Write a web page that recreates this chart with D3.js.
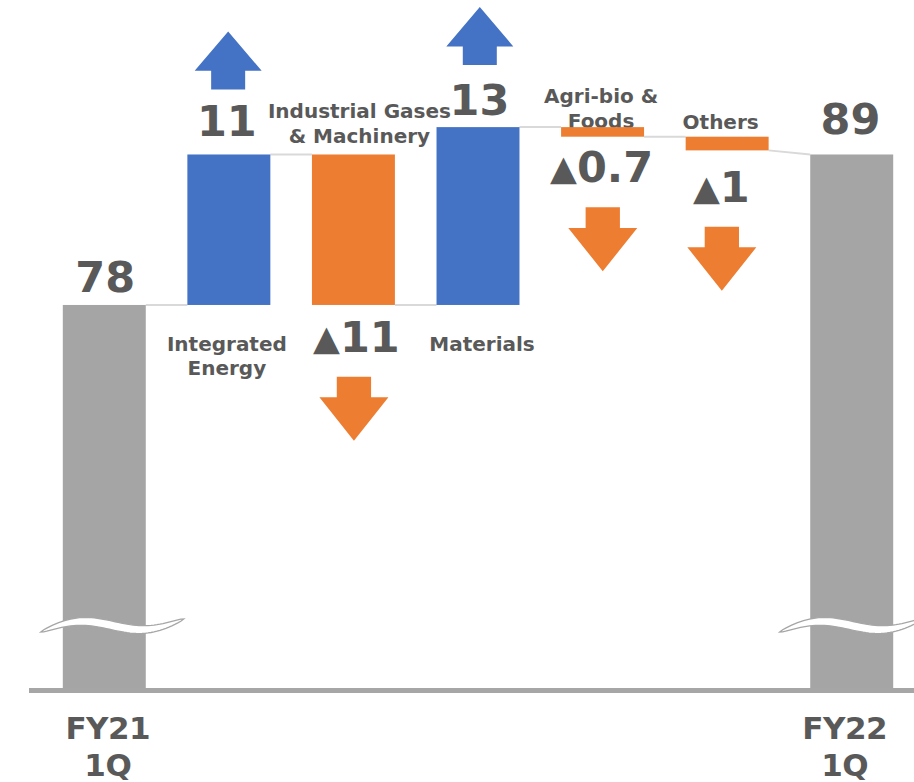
<!DOCTYPE html>
<html>
<head>
<meta charset="utf-8">
<script src="https://cdn.jsdelivr.net/npm/d3@7"></script>
<style>
  html, body { margin: 0; padding: 0; background: #ffffff; }
  svg { display: block; }
  text { font-family: "DejaVu Sans", "Verdana", sans-serif; font-weight: bold; fill: #595959; }
</style>
</head>
<body>
<svg id="chart" width="914" height="782"></svg>
<script>
// Operating income bridge, FY21 1Q -> FY22 1Q (billion yen)
const categories = ["FY21 1Q", "Integrated Energy", "Industrial Gases & Machinery", "Materials", "Agri-bio & Foods", "Others", "FY22 1Q"];
const categoryLines = [["FY21", "1Q"], ["Integrated", "Energy"], ["Industrial Gases", "& Machinery"], ["Materials"], ["Agri-bio &", "Foods"], ["Others"], ["FY22", "1Q"]];
const barKinds = ["total", "delta", "delta", "delta", "delta", "delta", "total"];
const barValues = [78, 11, -11, 13, -0.7, -1, 89];
const valueLabels = ["78", "11", "▲11", "13", "▲0.7", "▲1", "89"];
const axisFloor = 50;   // value axis is broken; totals rise from this floor
const axisCeil = 100;

const COLORS = { total: "#a5a5a5", up: "#4472c4", down: "#ed7d31", text: "#595959", connector: "#d9d9d9", axis: "#a6a6a6" };

const svg = d3.select("#chart");
const W = 914;

const x = d3.scaleBand()
  .domain(categories)
  .range([42, 914])
  .paddingInner(0.334)
  .paddingOuter(0.167);

const y = d3.scaleLinear()
  .domain([axisFloor, axisCeil])
  .range([688, 4]);

// Build waterfall segments
let running = 0;
const bars = categories.map((c, i) => {
  const v = barValues[i];
  let start, end;
  if (barKinds[i] === "total") {
    start = axisFloor; end = v; running = v;
  } else {
    start = running; end = running + v; running = end;
  }
  return { cat: c, i, kind: barKinds[i], value: v, start, end,
           lines: categoryLines[i], label: valueLabels[i] };
});

// Connectors between consecutive bars (end level of one -> start level of the next)
function levelOut(b) { return b.kind === "total" ? b.value : b.end; }
function levelIn(b) { return b.kind === "total" ? b.value : b.start; }
const gConn = svg.append("g");
for (let i = 0; i < bars.length - 1; i++) {
  const a = bars[i], b = bars[i + 1];
  gConn.append("line")
    .attr("x1", x(a.cat) + x.bandwidth()).attr("y1", y(levelOut(a)))
    .attr("x2", x(b.cat)).attr("y2", y(levelIn(b)))
    .attr("stroke", COLORS.connector).attr("stroke-width", 2);
}

// Category labels (drawn before bars so bars sit on top)
const catLayout = {
  1: { ref: "start", dy: 45.7, dx: -2 },
  2: { ref: "start", dy: -36.3, dx: 6 },
  3: { ref: "start", dy: 46, dx: 4 },
  4: { ref: "start", dy: -24.4, dx: -1.5 },
  5: { ref: "start", dy: -7.4, dx: -6.5 }
};
const gCat = svg.append("g");
bars.forEach(b => {
  const L = catLayout[b.i];
  if (!L) return;
  const cx = x(b.cat) + x.bandwidth() / 2 + L.dx;
  const y0 = y(b[L.ref]) + L.dy;
  const t = gCat.append("text")
    .attr("text-anchor", "middle")
    .attr("font-size", 20)
    .attr("x", cx).attr("y", y0);
  b.lines.forEach((ln, k) => {
    t.append("tspan").attr("x", cx).attr("dy", k === 0 ? 0 : 24.8).text(ln);
  });
});

// Bars
svg.append("g").selectAll("rect")
  .data(bars)
  .join("rect")
  .attr("x", d => x(d.cat))
  .attr("width", x.bandwidth())
  .attr("y", d => y(Math.max(d.start, d.end)))
  .attr("height", d => Math.abs(y(d.start) - y(d.end)))
  .attr("fill", d => d.kind === "total" ? COLORS.total : (d.value > 0 ? COLORS.up : COLORS.down));

// Axis-break ribbons across the total bars
const breakLayout = [{ i: 0, dx: -63.5 }, { i: 6, dx: -72 }];
const gBreak = svg.append("g");
breakLayout.forEach(bl => {
  const b = bars[bl.i];
  const x0 = x(b.cat) + x.bandwidth() / 2 + bl.dx;
  const span = 143, base = y(axisFloor) - 56;
  const n = 48, top = [], bot = [];
  for (let k = 0; k <= n; k++) {
    const u = k / n;
    const cy = base - 13 * u - 7 * Math.sin(2 * Math.PI * u);
    const th = 4.4 * Math.pow(Math.sin(Math.PI * u), 0.5);
    top.push([x0 + u * span, cy - th]);
    bot.push([x0 + u * span, cy + th]);
  }
  const pts = top.concat(bot.reverse());
  gBreak.append("path")
    .attr("d", d3.line()(pts) + "Z")
    .attr("fill", "#ffffff")
    .attr("stroke", COLORS.axis)
    .attr("stroke-width", 1.3);
});

// Baseline
svg.append("line")
  .attr("x1", 29).attr("x2", W)
  .attr("y1", y(axisFloor) + 2.5).attr("y2", y(axisFloor) + 2.5)
  .attr("stroke", COLORS.axis).attr("stroke-width", 5);

// Value labels
const valLayout = {
  0: { ref: "end", dy: -13.3, dx: 1 },
  1: { ref: "end", dy: -18.5, dx: -2 },
  2: { ref: "end", dy: 46.7, dx: 3 },
  3: { ref: "end", dy: -12, dx: 1.5 },
  4: { ref: "end", dy: 45.6, dx: -1 },
  5: { ref: "end", dy: 51.5, dx: -5.8 },
  6: { ref: "end", dy: -20.2, dx: -1.3 }
};
const gVal = svg.append("g");
bars.forEach(b => {
  const L = valLayout[b.i];
  const cx = x(b.cat) + x.bandwidth() / 2 + L.dx;
  const t = gVal.append("text")
    .attr("text-anchor", "middle")
    .attr("font-size", 43)
    .attr("x", cx).attr("y", y(b[L.ref]) + L.dy);
  if (b.label.startsWith("▲")) {
    t.append("tspan").attr("font-size", 35).attr("dy", -2).text("▲");
    t.append("tspan").attr("dy", 2).text(b.label.slice(1));
  } else {
    t.text(b.label);
  }
});

// Direction arrows
const arrowLayout = {
  1: { gap: 65, dx: -0.7 },
  2: { gap: 71.7, dx: 0.5 },
  3: { gap: 62, dx: 1.8 },
  4: { gap: 70.6, dx: 0.2 },
  5: { gap: 76.3, dx: -5.3 }
};
function arrowPath(cx, yBase, dir, len, headH, headW, shaftW) {
  // dir = -1 points up, +1 points down; yBase is the shaft end
  const yNeck = yBase + dir * (len - headH);
  const yTip = yBase + dir * len;
  return d3.line()([
    [cx - shaftW / 2, yBase], [cx - shaftW / 2, yNeck], [cx - headW / 2, yNeck],
    [cx, yTip], [cx + headW / 2, yNeck], [cx + shaftW / 2, yNeck], [cx + shaftW / 2, yBase]
  ]) + "Z";
}
const gArr = svg.append("g");
bars.forEach(b => {
  const L = arrowLayout[b.i];
  if (!L) return;
  const cx = x(b.cat) + x.bandwidth() / 2 + L.dx;
  const up = b.value > 0;
  const edge = y(b.end);
  const d = up
    ? arrowPath(cx, edge - L.gap, -1, 58, 39.3, 67, 34)
    : arrowPath(cx, edge + L.gap, 1, 64, 43.4, 69, 34.3);
  gArr.append("path").attr("d", d).attr("fill", up ? COLORS.up : COLORS.down);
});

// Period labels under the baseline
const gPer = svg.append("g");
[{ i: 0, dx: 3.5 }, { i: 6, dx: -7 }].forEach(p => {
  const b = bars[p.i];
  const cx = x(b.cat) + x.bandwidth() / 2 + p.dx;
  const t = gPer.append("text")
    .attr("text-anchor", "middle")
    .attr("font-size", 31)
    .attr("letter-spacing", -0.5)
    .attr("x", cx).attr("y", 739);
  b.lines.forEach((ln, k) => {
    t.append("tspan").attr("x", cx).attr("dy", k === 0 ? 0 : 36.5).text(ln);
  });
});
</script>
</body>
</html>
